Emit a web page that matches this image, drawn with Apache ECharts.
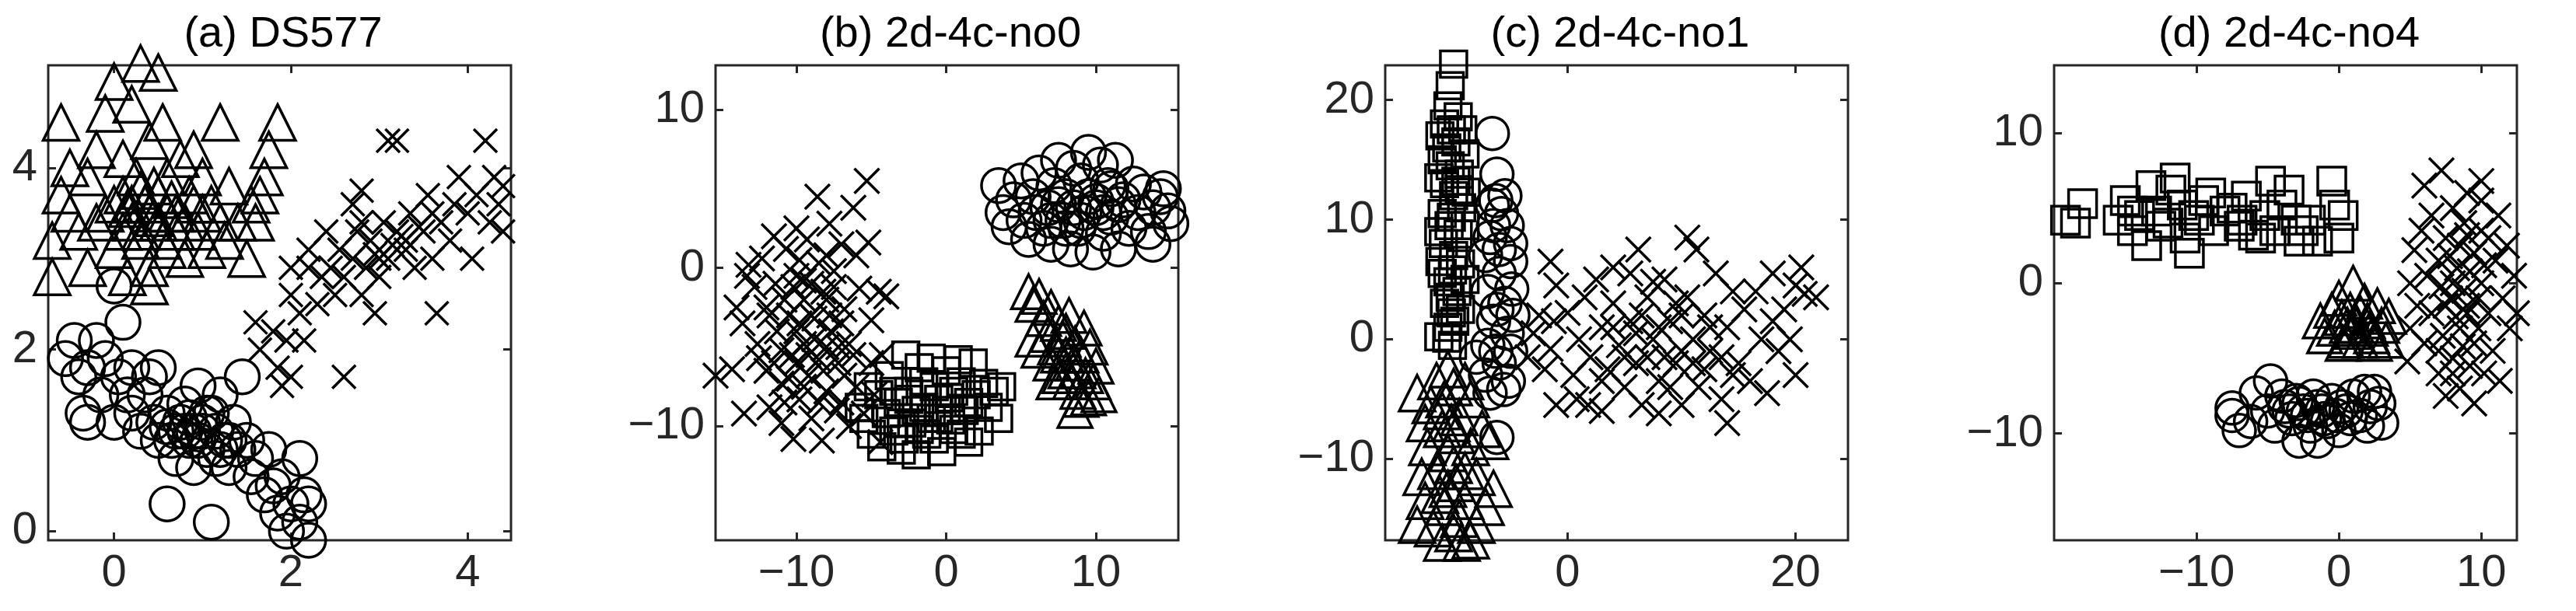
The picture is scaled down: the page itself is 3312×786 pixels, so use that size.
<!DOCTYPE html>
<html>
<head>
<meta charset="utf-8">
<script src="https://cdn.jsdelivr.net/npm/echarts@6/dist/echarts.min.js"></script>
<style>html,body{margin:0;padding:0;background:#fff}#chart{width:3312px;height:786px}</style>
</head>
<body>
<div id="chart"></div>
<script>
// (a) DS577
const aTri = [[-0.6,4.5],[-0.7,2.8],[-0.7,3.2],[-0.6,3.7],[-0.5,4.0],[-0.4,3.3],[-0.3,3.9],[-0.2,4.2],[-0.3,2.9],[-0.1,3.5],[-0.1,4.6],[0,4.95],[0.0,3.1],[0.1,3.7],[0.1,4.1],[0.15,2.8],[0.2,3.4],[0.2,4.7],[0.25,3.9],[0.3,5.15],[0.3,3.2],[0.35,3.6],[0.4,4.3],[0.4,2.9],[0.45,3.8],[0.5,5.05],[0.5,3.4],[0.55,4.5],[0.6,3.1],[0.6,3.9],[0.7,3.5],[0.75,4.1],[0.8,3.0],[0.85,3.7],[0.9,4.2],[0.95,3.3],[1.0,3.9],[1.05,3.1],[1.1,3.6],[1.2,4.5],[1.25,3.2],[1.3,3.8],[1.4,3.4],[1.5,3.0],[1.55,3.6],[1.6,3.4],[1.7,3.9],[1.75,4.2],[1.85,4.5],[1.65,3.7],[0.4,2.7],[-0.5,3.5],[0.2,3.6],[0.5,3.7],[0.3,3.3],[0.6,3.5],[0.1,3.3],[0.8,3.4],[0.4,3.5],[1.0,3.5],[0.3,3.75],[0.65,3.65],[0.15,3.55],[0.45,3.45],[0.9,3.6],[-0.2,3.4],[0.7,3.3],[1.2,3.4],[0.55,3.2],[0.0,3.6]];
const aCir = [[-0.55,1.9],[-0.45,2.1],[-0.4,1.7],[-0.3,1.8],[-0.35,1.3],[-0.2,2.1],[-0.15,1.5],[-0.1,1.9],[0,1.2],[0.05,1.7],[0.1,2.3],[0.0,2.7],[0.15,1.5],[0.2,1.3],[0.2,1.8],[0.3,1.1],[0.35,1.5],[0.4,1.7],[0.45,1.2],[0.5,1.0],[0.5,1.8],[0.6,1.3],[0.65,1.0],[0.7,0.8],[0.75,1.2],[0.8,1.4],[0.85,1.0],[0.9,0.7],[0.95,1.6],[1.0,1.1],[1.05,0.9],[1.1,1.3],[1.15,0.8],[1.2,1.5],[1.25,1.0],[1.3,0.7],[1.35,1.2],[1.4,0.9],[1.45,1.7],[1.5,1.0],[1.55,0.6],[1.6,0.8],[1.7,0.4],[1.75,0.9],[1.8,0.5],[1.85,0.2],[1.9,0.6],[1.95,0.0],[2.0,0.3],[2.1,0.1],[2.15,0.4],[2.2,0.3],[2.2,-0.1],[1.05,1.3],[2.1,0.8],[0.6,0.3],[1.1,0.1],[-0.3,1.2],[0.9,1.1],[1.0,1.2],[0.7,1.1],[0.8,1.1],[0.95,1.0],[1.15,1.1],[1.3,1.0],[0.6,1.15],[0.85,1.25],[1.2,0.9]];
const aCross = [[1.6,2.3],[1.65,2.0],[1.8,2.2],[1.85,1.8],[1.9,1.6],[1.95,2.1],[2.0,1.7],[2.0,2.6],[2.0,2.9],[2.1,2.4],[2.15,2.1],[2.2,3.1],[2.3,2.5],[2.35,2.8],[2.4,3.3],[2.45,2.9],[2.5,2.6],[2.55,3.1],[2.6,1.7],[2.6,2.8],[2.7,3.0],[2.75,3.3],[2.8,2.6],[2.85,2.9],[2.9,3.2],[2.95,2.4],[3.0,2.8],[3.05,3.4],[3.1,3.0],[3.1,4.3],[3.2,4.3],[3.2,3.3],[3.3,3.1],[3.35,3.5],[3.4,2.9],[3.5,3.3],[3.55,3.7],[3.6,3.0],[3.65,2.4],[3.7,3.4],[3.8,3.2],[3.85,3.6],[3.9,3.9],[4.0,3.5],[4.05,3.0],[4.1,3.7],[4.2,4.3],[4.25,3.4],[4.3,3.9],[4.35,3.6],[4.4,3.8],[4.4,3.3],[2.8,3.4],[3.0,3.0],[3.3,3.2],[2.2,2.9],[2.8,3.75],[2.7,3.6],[3.15,3.15],[3.25,3.25],[3.45,3.35],[2.95,3.05],[3.6,3.5]];
// (b) 2d-4c-no0
const bCross = [[-15.4,-6.8],[-14.3,-6.4],[-13.5,-9.2],[-14,-2.5],[-13.6,-3.5],[-13.3,-0.5],[-13.2,0.2],[-12.8,-1.2],[-12.6,-4.8],[-12.5,-5.7],[-12.3,0.6],[-12,-2.5],[-12,-6.5],[-11.8,-8.8],[-11.5,2.0],[-11.4,-1],[-11.3,-4],[-11,-7.3],[-11,-9.8],[-10.7,1.2],[-10.5,-3],[-10.3,-5.5],[-10.2,-10.8],[-10,2.5],[-10,-0.5],[-9.8,-8.3],[-9.5,-2],[-9.5,-4.8],[-9.3,1.8],[-9.2,-6.8],[-9,-9.5],[-8.8,-3.2],[-8.6,4.5],[-8.5,0.3],[-8.5,-5.8],[-8.3,-10.9],[-8.2,-1.5],[-8,-7.8],[-7.8,2.8],[-7.7,-4],[-7.5,-0.2],[-7.3,-9],[-7.2,-6],[-7,1.5],[-6.8,-2.6],[-6.5,-10],[-6.5,-4.8],[-6.2,3.8],[-6,0.8],[-6,-7.5],[-5.8,-1.3],[-5.5,-9.2],[-5.3,5.5],[-5.2,1.6],[-5,-3.3],[-5,-6],[-4.5,-1.5],[-4,-1.8],[-4.4,-11],[-4.3,-5.5],[-4.8,-8],[-11,-5.2],[-10,-4],[-9,-3],[-8,-5],[-10.5,-7],[-9.5,-0.8],[-8,-2],[-7,-8.5],[-11.8,-3],[-9,-1],[-7,-3.5],[-10,-6],[-8.5,-8.5],[-6.2,-5.5],[-10.8,-2],[-9.8,-3.5],[-8.8,-4.5],[-7.8,-3],[-9.2,-5.5],[-10.2,-1.2],[-8.2,-6.5],[-7.5,-1.2],[-11.5,-6],[-9.5,-7.5],[-6.8,-6.8],[-8,0.8],[-10.8,-8.5],[-7.2,-5],[-9.8,0.5]];
const bSq = [[-5.8,-8.8],[-5.5,-9.5],[-5.2,-7.5],[-5,-10.5],[-4.5,-8],[-4.3,-11.3],[-4,-9.2],[-3.8,-6.8],[-3.5,-10.3],[-3.2,-8.5],[-3,-11.5],[-2.7,-5.5],[-2.5,-7.8],[-2.3,-9.8],[-2,-11.8],[-1.8,-6.3],[-1.5,-8.8],[-1.3,-10.5],[-1,-5.7],[-0.8,-7.5],[-0.5,-9.5],[-0.3,-11.6],[0,-6.5],[0.2,-8.2],[0.5,-10.2],[0.8,-5.8],[1,-7.2],[1.2,-9],[1.5,-11],[1.8,-6],[2,-8],[2.2,-10.3],[2.5,-7.3],[2.8,-8.8],[3.2,-7.8],[3.7,-7.5],[3.5,-9.5],[-2,-9],[-1,-9.5],[0,-9],[-3,-9.8],[1,-10.5],[-2.5,-8.3],[-1.5,-7.2],[-0.5,-8.3],[0.5,-7.8],[-3.5,-7.8],[-1.8,-10.2],[-0.8,-10.8],[0.3,-9.6],[-2.8,-10.8],[1.5,-8.5]];
const bCir = [[3.5,5.2],[3.8,3.5],[4.2,2.6],[4.5,4.3],[5,5.5],[5.2,3],[5.5,1.8],[5.8,4.5],[6.2,6.0],[6.5,2.5],[6.8,3.8],[7,1.5],[7.2,5.2],[7.5,6.8],[7.8,3],[8,4.5],[8.3,1.2],[8.5,6.3],[8.8,2.5],[9,5.5],[9.2,3.5],[9.5,7.3],[9.8,1],[10,4.2],[10.3,6.5],[10.5,2.2],[10.8,5.2],[11,3.2],[11.3,6.8],[11.5,1.2],[11.8,4.3],[12.2,2.5],[12.5,5.3],[12.8,3.5],[13.2,4.8],[13.5,2.3],[13.8,3.8],[14.3,4.5],[14.8,3.6],[15,2.8],[13.8,1.5],[14.5,5],[6,3.5],[9,3],[10,3.8],[7.5,4],[8.5,3.8],[9.5,4.5],[10.5,3.5],[11.5,4],[8,2.5],[11,5],[7,3]];
const bTri = [[5.5,-1.5],[5.8,-2.3],[6.2,-1.8],[5.8,-4.5],[6.2,-5.2],[6.5,-3.2],[6.8,-4.2],[7,-2.5],[7,-6],[7.3,-5],[7.5,-3.5],[7.6,-6.8],[7.8,-4.5],[8,-5.5],[8.2,-3],[8.3,-7.2],[8.5,-6],[8.6,-4.8],[8.8,-7.8],[9,-5.5],[9.2,-3.8],[9.3,-6.8],[9.5,-8.2],[9.6,-5],[9.8,-7.2],[10,-6.2],[10.2,-8],[8.6,-9],[9,-8.3],[8,-6.5],[7.2,-7.2],[8,-4],[8.8,-6.5],[7.5,-5.5]];
// (c) 2d-4c-no1
const cSq = [[-10,23],[-10.3,21.2],[-10.5,19.5],[-9.6,18.6],[-10.8,18],[-10.2,17.5],[-9.8,16.5],[-11,15],[-10.3,14.5],[-9.5,13.8],[-10.8,13],[-10,12],[-9.3,11],[-11,10.5],[-10.4,9.5],[-9.6,8.8],[-10.9,8],[-10,7],[-9.4,6.3],[-11,5.5],[-10.5,4.8],[-9.7,4],[-10.8,3],[-10.2,2.2],[-10.5,1],[-11.3,0.2],[-10.6,0.1],[-9.9,1.5],[-9.4,2.5],[-10.1,-0.5],[-9.5,12.5],[-10.6,16],[-11.3,13.5],[-11.3,9],[-11.2,6.5],[-9,15.5],[-9,9.5],[-9,5],[-8.9,12.3],[-9.2,17.5],[-11.2,17],[-10.2,10.2],[-10.1,5.8],[-10.3,3.5],[-9.8,13.2]];
const cCir = [[-6.6,17.2],[-6.2,13.8],[-6.3,11.6],[-6.6,11.2],[-5.3,9.5],[-5,8],[-6.8,8.5],[-7.2,7],[-5,6.5],[-6,5.5],[-4.9,4.2],[-7,4],[-5.5,3],[-4.8,2],[-6.5,1.5],[-5.3,0.5],[-7,-0.5],[-5,-1],[-6,-2],[-7.2,-3],[-5.2,-3.5],[-5.6,-4.2],[-6.8,-4.5],[-8,-1.5],[-6.2,-8.2],[-6.5,9.5],[-5.5,12],[-6,7.5],[-6.2,2.5],[-6.3,-1],[-5.8,10.5]];
const cTri = [[-13.2,-4.5],[-12,-5.5],[-11.5,-3.5],[-10.5,-2.5],[-10,-4],[-9,-3.5],[-8.5,-5],[-12.5,-7],[-11,-7.5],[-9.5,-6.5],[-7.5,-7.5],[-12.3,-9],[-10.5,-9.5],[-8.5,-9],[-6.8,-8.5],[-12.8,-11.5],[-11.5,-11],[-9.8,-12],[-8,-11.5],[-6.5,-12.5],[-12.5,-13.5],[-10.8,-14],[-9,-13.5],[-7.2,-14],[-13.2,-15.5],[-11.8,-15.8],[-10,-16.2],[-8,-15.5],[-11,-17],[-9.3,-17],[-8.5,-16.8],[-10.5,-12.5],[-10,-10.5],[-11,-6],[-9.8,-8],[-11.2,-13],[-9.5,-15],[-10.8,-5],[-9,-11],[-10.2,-7]];
const cCross = [[-3.5,-1.5],[-3,0.5],[-2.5,2],[-2,-2.5],[-1.5,-0.8],[-1.2,1.5],[-1.5,6.5],[-1,4.5],[-1,-5.5],[0,2.2],[0.5,-3],[0.8,-5],[1,0],[1.5,3.5],[1.8,-5.5],[2,-1.5],[2.5,5],[3,1],[3,-6],[3.5,-2.5],[4,3],[4,6],[4.5,-0.5],[5,-4],[5.5,5.5],[5.5,1.5],[6,-2],[6.2,7.5],[6.5,-5.5],[7,3.5],[7.5,0],[8,-3.5],[8,-6.2],[8.5,5],[9,1.5],[9.5,-2],[10,-5.5],[10.5,3.5],[10.5,8.5],[11,0],[11.3,7.5],[11.5,-4],[12,2],[12.5,-1],[13,5.5],[13.5,-5],[14,1],[14,-7],[14.5,4],[15,-2],[15.5,2.5],[16,-3.5],[16.5,4],[17,0],[17.5,-4.5],[18,5.5],[18,1.5],[18.5,-1],[19,2.5],[19.5,0],[20,-3],[20.5,6],[20.8,3.8],[21.8,3.5],[20,4.5],[8,1],[6,0.5],[10,-1],[4,1],[9,-4],[12,-2.5],[7,-1.5],[5,-1.5],[6.5,2],[8.5,-1.5],[9.5,3],[11,-2],[12.5,1],[13.5,-1.5],[10,2],[7.5,4.8],[3,-3.5],[14.5,-3]];
// (d) 2d-4c-no4
const dSq = [[-19.2,4.2],[-18.5,4],[-18,5.3],[-15.5,4.2],[-15,5.5],[-14.5,3.5],[-14,4.5],[-13.5,2.5],[-13.2,6.5],[-12.8,4.8],[-12,4],[-11.8,6.2],[-11.5,7],[-11,5.2],[-10.8,3],[-10.5,2],[-10.2,4.5],[-9.5,5.5],[-9,6],[-8.8,3.5],[-8,4.8],[-7.5,5],[-6.8,4.2],[-6.5,5.8],[-6,3.2],[-5.5,3],[-5.2,4.5],[-4.8,6.8],[-4.5,3.5],[-4,5.2],[-3.5,6.2],[-3,4.2],[-2.8,2.8],[-2.5,3.5],[-2,4.2],[-1.5,2.8],[-0.5,6.8],[-0.3,5.2],[0,3],[0.3,4.5],[-7,3.8],[-12.5,3.8],[-9.8,4.2],[-14.5,4.8]];
const dCir = [[-7.5,-8.3],[-7.5,-8.8],[-7,-9.8],[-6.2,-9.2],[-5.8,-7.3],[-5,-8.5],[-4.8,-6.5],[-4.5,-9.5],[-4,-7.5],[-3.8,-8.2],[-3.3,-9],[-3,-7.8],[-2.8,-10.5],[-2.5,-8.5],[-2,-9.5],[-1.8,-7.5],[-1.5,-10.5],[-1.2,-8.5],[-0.8,-9.2],[-0.5,-7.8],[0,-9.8],[0.2,-8.2],[0.8,-9],[1,-7.5],[1.5,-8.8],[1.8,-7.2],[2,-9.5],[2.2,-8.2],[2.8,-8],[3,-9.3],[2.5,-7.2],[-2.2,-8.8],[-3.5,-8.5],[-1,-9],[0.5,-8.5],[-2.8,-8],[-1.5,-8.2],[-0.2,-8.8]];
const dTri = [[-1.3,-2.5],[-1,-3.5],[-0.5,-1.8],[-0.3,-3],[0,-1],[0.2,-2.3],[0.5,-3.8],[0.8,-1.8],[1,0],[1.2,-2.8],[1.5,-3.8],[1.8,-1.2],[2,-2.5],[2.3,-3.5],[2.7,-1.5],[3,-2.8],[3.3,-3.8],[3.5,-2.2],[1,-3.2],[0.3,-4],[2.5,-4],[0.6,-2.8],[1.5,-2],[2.2,-3]];
const dCross = [[4.8,-5.2],[5,-3],[5,0],[5.3,2.2],[5.5,-1.5],[5.8,3.5],[6,-4],[6,6.5],[6.2,0.5],[6.5,-2],[6.5,4.5],[7,-6],[7,1.5],[7.2,7.5],[7.3,-3.5],[7.5,-7.5],[7.5,3],[7.8,-1],[8,-5],[8,5],[8.3,1],[8.5,-3],[8.5,-7],[8.8,4],[9,-1.5],[9,6],[9.2,-5.5],[9.5,2],[9.5,-8],[9.8,-3],[10,5.5],[10,6.8],[10,0],[10.2,-6],[10.5,3],[10.5,-2],[10.8,-4.5],[11,1.5],[11.2,4.5],[11.3,-6.5],[11.5,-1],[11.8,2.5],[12,-3],[12.3,0.5],[12.5,-2],[8,0],[9,-2],[7.5,-1.5],[8.5,2.5],[9.5,-4],[7,-4.5],[10,3.5],[8.2,-2.2],[9.2,0.8],[8.7,-4.2],[7.8,1.8],[9.8,-1],[8.8,-0.5],[7.2,-0.2],[10.2,1.2],[9,3.2],[8,-6]];

const titles = ['(a) DS577', '(b) 2d-4c-no0', '(c) 2d-4c-no1', '(d) 2d-4c-no4'];
const xTicks = [[0, 2, 4], [-10, 0, 10], [0, 20], [-10, 0, 10]];
const yTicks = [[0, 2, 4], [-10, 0, 10], [-10, 0, 10, 20], [-10, 0, 10]];
const xRanges = [[-0.745, 4.49], [-15.4, 15.5], [-16, 24.6], [-20, 12.5]];
const yRanges = [[-0.1, 5.13], [-17.2, 12.8], [-16.8, 22.9], [-17.1, 14.5]];
const gridLefts = [62, 920, 1781, 2641];

const CROSS = 'path://M0,0L10,10M10,0L0,10';
const panels = [
  [[aTri, 'triangle', 46], [aCir, 'circle', 44], [aCross, CROSS, 30]],
  [[bCross, CROSS, 32], [bSq, 'rect', 34], [bCir, 'circle', 44], [bTri, 'triangle', 44]],
  [[cSq, 'rect', 34], [cCir, 'circle', 42], [cTri, 'triangle', 46], [cCross, CROSS, 32]],
  [[dSq, 'rect', 36], [dCir, 'circle', 42], [dTri, 'triangle', 44], [dCross, CROSS, 32]],
];

const ink = '#262626';
const font = 'Liberation Sans, Arial';
const grid = [], xAxis = [], yAxis = [], series = [], title = [];
panels.forEach((p, i) => {
  grid.push({ left: gridLefts[i], top: 84, width: 595, height: 611, show: true,
    borderColor: ink, borderWidth: 3, backgroundColor: '#fff' });
  title.push({ text: titles[i], left: gridLefts[i] + 297, top: 12, textAlign: 'center',
    textStyle: { fontFamily: font, fontSize: 56, fontWeight: 'normal', color: '#000' } });
  const base = (vals, r) => ({
    gridIndex: i, type: 'value', min: r[0], max: r[1],
    axisLine: { show: false, onZero: false }, splitLine: { show: false },
    axisTick: { show: true, inside: true, length: 10, customValues: vals, lineStyle: { color: ink, width: 3 } },
  });
  const lab = vals => ({ show: true, customValues: vals, margin: 14, color: ink, fontSize: 58,
    fontFamily: font, formatter: v => String(v).replace('-', '\u2212') });
  xAxis.push({ ...base(xTicks[i], xRanges[i]), position: 'bottom', axisLabel: lab(xTicks[i]) });
  xAxis.push({ ...base(xTicks[i], xRanges[i]), position: 'top', axisLabel: { show: false } });
  yAxis.push({ ...base(yTicks[i], yRanges[i]), position: 'left', axisLabel: lab(yTicks[i]) });
  yAxis.push({ ...base(yTicks[i], yRanges[i]), position: 'right', axisLabel: { show: false } });
  p.forEach(([data, symbol, size]) => {
    series.push({
      type: 'scatter', xAxisIndex: i * 2, yAxisIndex: i * 2, data, symbol, symbolSize: size,
      clip: false, silent: true, animation: false,
      itemStyle: { color: 'rgba(0,0,0,0)', borderColor: '#000', borderWidth: 3.5, opacity: 1 },
    });
  });
});

const chart = echarts.init(document.getElementById('chart'));
chart.setOption({ animation: false, title, grid, xAxis, yAxis, series });
</script>
</body>
</html>
